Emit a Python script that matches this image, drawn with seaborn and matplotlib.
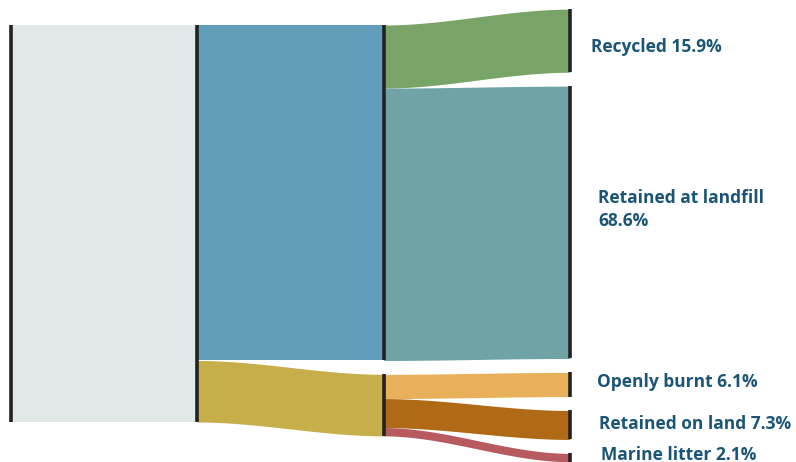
import numpy as np
import matplotlib.pyplot as plt
import seaborn as sns

sns.set_style('white')
plt.rcParams['font.family'] = ['Open Sans', 'DejaVu Sans']

# stages and shares (%)
stage1 = ['Managed', 'Mismanaged']
stage1_vals = [84.5, 15.5]
fates = ['Recycled', 'Retained at landfill', 'Openly burnt', 'Retained on land', 'Marine litter']
fate_vals = [15.9, 68.6, 6.1, 7.3, 2.1]
fate_parent = [0, 0, 1, 1, 1]
fate_labels = ['Recycled 15.9%', 'Retained at landfill\n68.6%', 'Openly burnt 6.1%',
               'Retained on land 7.3%', 'Marine litter 2.1%']

GRAY = '#E0E9E8'
stage_colors = ['#639DBC', '#C6AE4A']
fate_colors = ['#78A468', '#6FA3A5', '#E9B05C', '#B06A15', '#B85B60']
LABEL = '#1A5577'
GAP = 3.5
PX = 186.3   # pixels per column step
PY = 3.97    # pixels per percent

# label nudges (pixels): x position and vertical shift from node centre
label_x = [591, 598, 597, 599, 601]
label_dy = [6, -13, -2, -1, -3]


def stack(vals, top, gap):
    out, y = [], top
    for v in vals:
        out.append((y, y + v))
        y += v + gap
    return out


def flow(ax, x0, x1, a, b, color):
    xs = np.linspace(x0, x1, 80)
    t = (xs - x0) / (x1 - x0)
    s = t * t * (3 - 2 * t)
    top = a[0] + (b[0] - a[0]) * s
    bot = a[1] + (b[1] - a[1]) * s
    ax.fill_between(xs, top, bot, color=color, lw=0, alpha=1)


fig = plt.figure(figsize=(7.96, 4.62), dpi=100)
ax = fig.add_axes([0, 0, 1, 1])

col0 = [(0, sum(stage1_vals))]
col1 = stack(stage1_vals, 0, 0)
col2 = stack(stage1_vals, 0, GAP)
col3 = stack(fate_vals, -4, GAP)

# column 0 -> 1
for n in col1:
    flow(ax, 0, 1, n, n, GRAY)
# column 1 -> 2
for i in range(len(stage1)):
    flow(ax, 1, 2, col1[i], col2[i], stage_colors[i])
# column 2 -> 3
offs = [c[0] for c in col2]
for i, v in enumerate(fate_vals):
    p = fate_parent[i]
    src = (offs[p], offs[p] + v)
    offs[p] += v
    flow(ax, 2, 3, src, col3[i], fate_colors[i])

# node bars
for x, col in [(0, col0), (1, col1), (2, col2), (3, col3)]:
    for n in col:
        ax.plot([x, x], n, color='#222222', lw=2.6, solid_capstyle='butt')

for i, lab in enumerate(fate_labels):
    yc = (col3[i][0] + col3[i][1]) / 2 + label_dy[i] / PY
    ax.text((label_x[i] - 11) / PX, yc, lab, color=LABEL, fontsize=12.5,
            fontweight='bold', va='center', ha='left', linespacing=1.4)

ax.set_xlim(-11 / PX, (796 - 11) / PX)
ax.set_ylim((462 - 25) / PY, -25 / PY)
ax.axis('off')
sns.despine(left=True, bottom=True)
fig.savefig('out.png', dpi=100)
